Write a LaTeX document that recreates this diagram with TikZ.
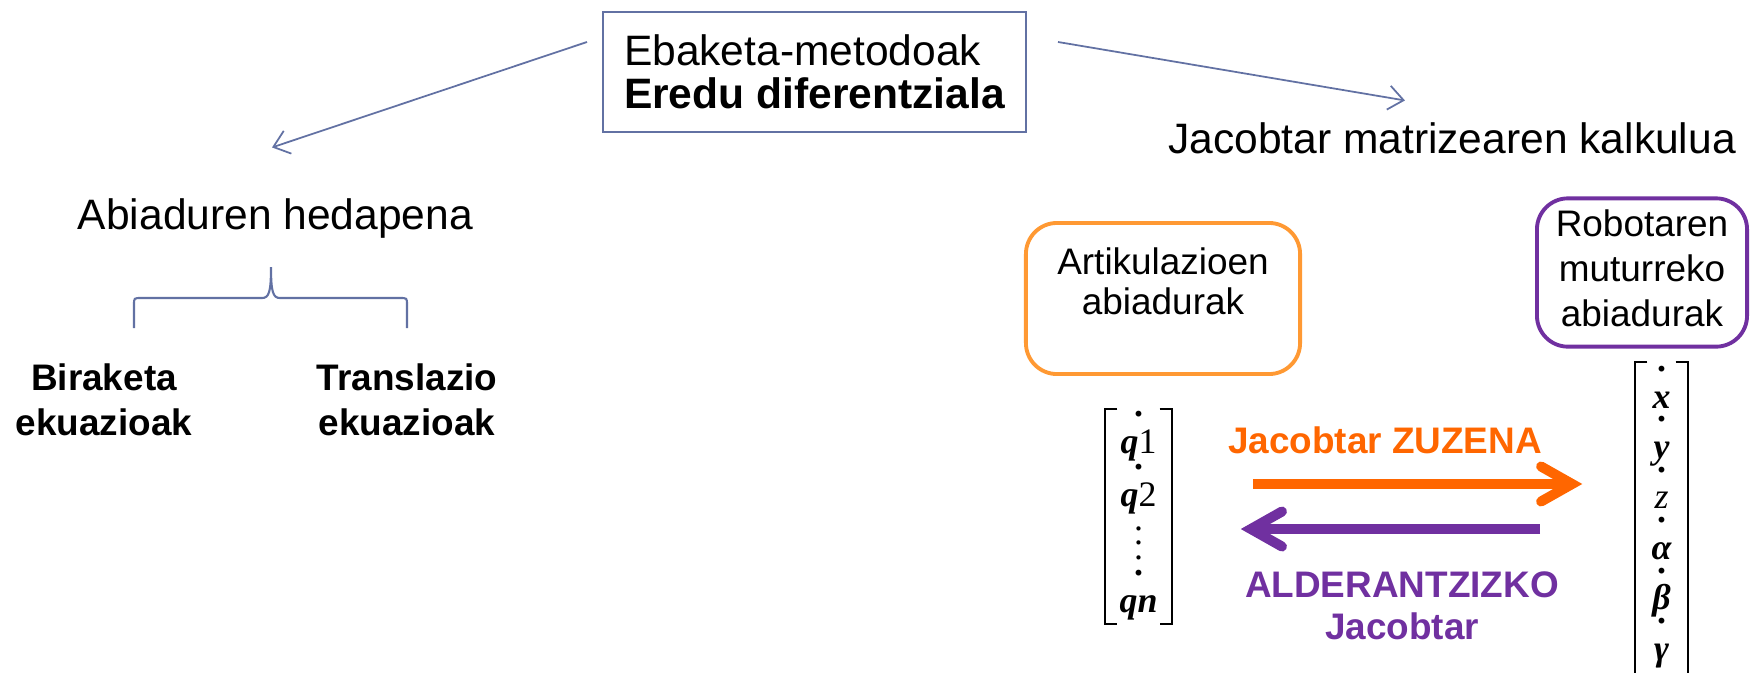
\documentclass[tikz,border=0pt]{standalone}
\usepackage{fontspec}
\setmainfont{Liberation Sans}
\newfontfamily\vecfont{Liberation Serif}
\usetikzlibrary{arrows.meta,positioning}

\definecolor{linkblue}{RGB}{98,113,163}
\definecolor{zuzorange}{RGB}{255,102,0}
\definecolor{boxorange}{RGB}{255,153,51}
\definecolor{alderpurple}{RGB}{112,48,160}

% time derivative dot set above a vector entry
\newcommand{\dotover}[1]{\ooalign{#1\cr\hidewidth\raisebox{10.4pt}{\bfseries .}\hidewidth\cr}}
% extra depth below the last line of a box text
\newcommand{\lowpad}[1]{\rule[-#1]{0pt}{#1}}

\begin{document}
\begin{tikzpicture}[x=0.01cm,y=-0.01cm,
  link/.style={draw=linkblue,line width=0.5pt,-{Straight Barb[length=1.5mm,width=2.4mm]}},
  curly/.style={draw=linkblue,line width=0.6pt},
  heading/.style={inner sep=0pt,anchor=base,font=\fontsize{12.1}{14}\selectfont},
  eqlabel/.style={inner sep=0pt,anchor=north,align=center,font=\bfseries\fontsize{10.5}{12.8}\selectfont},
  velbox/.style={rounded corners=3.1mm,line width=1.1pt,align=center},
  vecframe/.style={inner sep=0pt},
  bracket/.style={line width=0.55pt},
  vecentry/.style={inner sep=0pt,anchor=base,font=\vecfont\fontsize{10.2}{11}\selectfont},
  jacarrow/.style={line width=0.1cm,-{Straight Barb[length=0.31cm,width=0.35cm,line cap=round,line join=miter]}},
  jaclabel/.style={inner sep=0pt,font=\bfseries\fontsize{10.5}{11.95}\selectfont}]
  \useasboundingbox (0,0) rectangle (1751,672);

  % method box and the two branches
  \node[draw=linkblue,line width=0.5pt,minimum width=4.23cm,minimum height=1.2cm,
    align=left,font=\fontsize{12.1}{12.3}\selectfont] (methods) at (814.5,72)
    {Ebaketa-metodoak\\\textbf{Eredu diferentziala}};
  \node[heading] (abi) at (275.5,229) {Abiaduren hedapena};
  \node[heading] (jacmat) at (1452,153) {Jacobtar matrizearen kalkulua};
  \draw[link] ([xshift=-0.15cm,yshift=0.3cm]methods.west) -- ([xshift=-0.035cm,yshift=0.5cm]abi.north);
  \draw[link] ([xshift=0.31cm,yshift=0.3cm]methods.east) -- ([xshift=-0.47cm,yshift=0.21cm]jacmat.north);

  % velocity propagation split
  \draw[curly] (134,328) -- (134,305) .. controls (134,298) .. (141,298) -- (262,298)
    .. controls (269,298) and (271,292) .. (271,267)
    .. controls (271,292) and (273,298) .. (280,298) -- (400,298)
    .. controls (407,298) .. (407,305) -- (407,328);
  \node[eqlabel] (birak) at (104,363) {Biraketa\\ekuazioak};
  \node[eqlabel] (transl) at (407,363) {Translazio\\ekuazioak};

  % joint and end effector velocities
  \node[velbox,draw=boxorange,minimum width=2.74cm,minimum height=1.51cm,
    font=\fontsize{10.5}{11.4}\selectfont] (jointvel) at (1163,298.5)
    {Artikulazioen\\abiadurak\lowpad{9.7pt}};
  \node[velbox,draw=alderpurple,minimum width=2.1cm,minimum height=1.45cm,
    font=\fontsize{10.5}{12.8}\selectfont] (endvel) at (1642,272.5)
    {Robotaren\\muturreko\\abiadurak\lowpad{2.3pt}};

  % joint rate vector
  \node[vecframe,minimum width=0.65cm,minimum height=2.13cm] (qvec) at (1138.5,516.5) {};
  \draw[bracket] ([xshift=1.2mm]qvec.north west) -| (qvec.south west) -- ++(12,0);
  \draw[bracket] ([xshift=-1.2mm]qvec.north east) -| (qvec.south east) -- ++(-12,0);
  \node[vecentry] (q1) at (1138.5,453) {\dotover{{\bfseries\itshape q}1}};
  \node[vecentry] (q2) at (1138.5,506) {\dotover{{\bfseries\itshape q}2}};
  \node[vecentry] (qdots) at (1138.5,559) {$\vdots$};
  \node[vecentry] (qn) at (1138.5,612) {\dotover{\bfseries\itshape qn}};

  % end effector rate vector
  \node[vecframe,minimum width=0.51cm,minimum height=3.37cm] (xvec) at (1661.5,531.5) {};
  \draw[bracket] ([xshift=1.2mm]xvec.north west) -| (xvec.south west) -- ++(12,0);
  \draw[bracket] ([xshift=-1.2mm]xvec.north east) -| (xvec.south east) -- ++(-12,0);
  \foreach \ent [count=\i from 0] in {{\bfseries\itshape x},{\bfseries\itshape y},{\itshape z},
      {\bfseries\itshape α},{\bfseries\itshape β},{\bfseries\itshape γ}}
    \node[vecentry] (x\i) at (1661.5,{408+50.4*\i}) {\dotover{\ent}};

  % direct and inverse Jacobian
  \coordinate (fwdlevel) at ([yshift=3.25mm]qvec.east);
  \coordinate (bwdlevel) at ([yshift=-1.25mm]qvec.east);
  \draw[jacarrow,zuzorange,shorten <=0.81cm,shorten >=0.53cm] (fwdlevel) -- (fwdlevel -| xvec.west);
  \draw[jacarrow,alderpurple,shorten <=0.95cm,shorten >=0.69cm] (bwdlevel -| xvec.west) -- (bwdlevel);
  \node[jaclabel,text=zuzorange,anchor=base] (zuzlbl) at (1385,453) {Jacobtar ZUZENA};
  \node[jaclabel,text=alderpurple,anchor=north,align=center] (alderlbl) at (1402,571) {ALDERANTZIZKO\\Jacobtar};
\end{tikzpicture}
\end{document}
